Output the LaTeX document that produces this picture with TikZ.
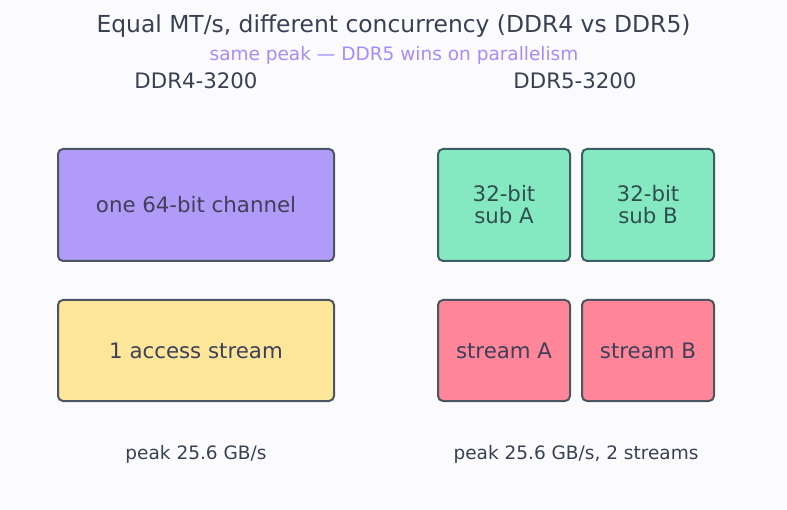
\documentclass[tikz,border=0pt]{standalone}
\usepackage{fontspec}
\setmainfont{DejaVu Sans}
\definecolor{bgc}{HTML}{FBFBFE}
\definecolor{ink}{HTML}{374151}
\definecolor{sub}{HTML}{A78BFA}
\definecolor{edge}{HTML}{4B5563}
\definecolor{purp}{HTML}{B09CF8}
\definecolor{yell}{HTML}{FCE699}
\definecolor{grn}{HTML}{84E9C1}
\definecolor{red}{HTML}{FF8598}
\definecolor{boxink}{HTML}{3F3F5A}
\definecolor{grnink}{HTML}{2F4F4F}
\begin{document}
\begin{tikzpicture}[x=1pt,y=-1pt,
  box/.style={draw=edge,line width=2pt,rounded corners=5pt,anchor=north west,inner sep=0pt},
  txt/.style={text=boxink,font=\fontsize{21.3}{25}\selectfont,align=center,inner sep=0pt},
  lbl/.style={text=ink,inner sep=0pt}]
\fill[bgc] (0,0) rectangle (787,510);
\useasboundingbox (0,0) rectangle (787,510);
\node[lbl,font=\fontsize{23.4}{28}\selectfont] (title) at (393.5,26) {Equal MT/s, different concurrency (DDR4 vs DDR5)};
\node[lbl,text=sub,font=\fontsize{18.5}{22}\selectfont] (subt) at (394,55.5) {same peak — DDR5 wins on parallelism};
\node[lbl,font=\fontsize{21.3}{25}\selectfont] (h4) at (196,81) {DDR4-3200};
\node[lbl,font=\fontsize{21.3}{25}\selectfont] (h5) at (575,81) {DDR5-3200};
\node[box,fill=purp,minimum width=276pt,minimum height=112pt] (ch) at (57,148) {};
\node[txt] (cht) at (196,205) {one 64-bit channel};
\node[box,fill=yell,minimum width=276pt,minimum height=101pt] (st) at (57,299) {};
\node[txt] (stt) at (196,350.5) {1 access stream};
\node[box,fill=grn,minimum width=132pt,minimum height=112pt,draw=edge!80!teal] (sa) at (437,148) {};
\node[txt,text=grnink] (sat) at (504,205) {32-bit\\[-3pt]sub A};
\node[box,fill=grn,minimum width=132pt,minimum height=112pt,draw=edge!80!teal] (sb) at (581,148) {};
\node[txt,text=grnink] (sbt) at (648,205) {32-bit\\[-3pt]sub B};
\node[box,fill=red,minimum width=132pt,minimum height=101pt] (ra) at (437,299) {};
\node[txt] (rat) at (504,350.5) {stream A};
\node[box,fill=red,minimum width=132pt,minimum height=101pt] (rb) at (581,299) {};
\node[txt] (rbt) at (648,350.5) {stream B};
\node[lbl,font=\fontsize{18.5}{22}\selectfont] (p4) at (196,454) {peak 25.6 GB/s};
\node[lbl,font=\fontsize{18.5}{22}\selectfont] (p5) at (576,454) {peak 25.6 GB/s, 2 streams};
\end{tikzpicture}
\end{document}
